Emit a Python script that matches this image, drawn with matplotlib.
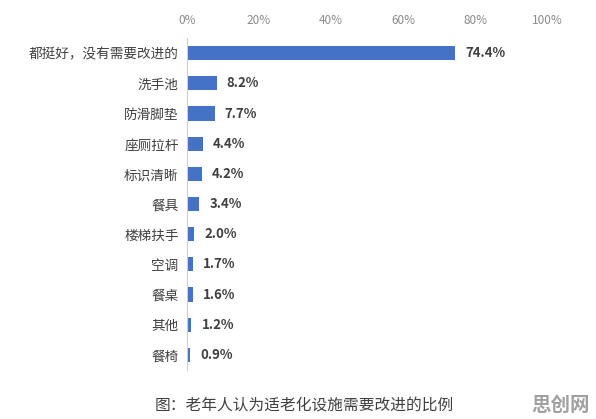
import numpy as np
import matplotlib.pyplot as plt

plt.rcParams['font.family'] = ['Noto Sans CJK SC', 'DejaVu Sans']

# data
categories = ['都挺好，没有需要改进的', '洗手池', '防滑脚垫', '座厕拉杆', '标识清晰',
              '餐具', '楼梯扶手', '空调', '餐桌', '其他', '餐椅']
values = [74.4, 8.2, 7.7, 4.4, 4.2, 3.4, 2.0, 1.7, 1.6, 1.2, 0.9]
ticks = [0, 20, 40, 60, 80, 100]
caption = '图：老年人认为适老化设施需要改进的比例'

fig = plt.figure(figsize=(5.96, 4.19), dpi=100)
ax = fig.add_axes([0.3138, 0.117, 0.604, 0.792])

y = np.arange(len(categories))
ax.barh(y, values, height=0.47, color='#4472C4')
for yi, v in zip(y, values):
    ax.text(v + 2.8, yi, f'{v:.1f}%', va='center', ha='left',
            fontsize=9.5, fontweight='bold', color='#404040')

ax.set_xlim(0, 100)
ax.set_ylim(len(categories) - 0.5, -0.5)
ax.set_yticks(y)
ax.set_yticklabels(categories, fontsize=9.8, color='#404040')
ax.set_xticks(ticks)
ax.set_xticklabels([f'{t}%' for t in ticks], fontsize=8.5, color='#8c8c8c')
ax.xaxis.tick_top()
ax.tick_params(length=0, pad=8)
ax.tick_params(axis='y', pad=6)
for s in ['top', 'right', 'bottom']:
    ax.spines[s].set_visible(False)
ax.spines['left'].set_color('#d0d0d0')

fig.text(0.26, 0.032, caption, fontsize=11.3, color='#404040', ha='left', va='center')
fig.text(0.99, 0.032, '思创网', fontsize=14, fontweight='bold', color='#a0a0a0',
         ha='right', va='center')

fig.savefig('out.png', dpi=100)
